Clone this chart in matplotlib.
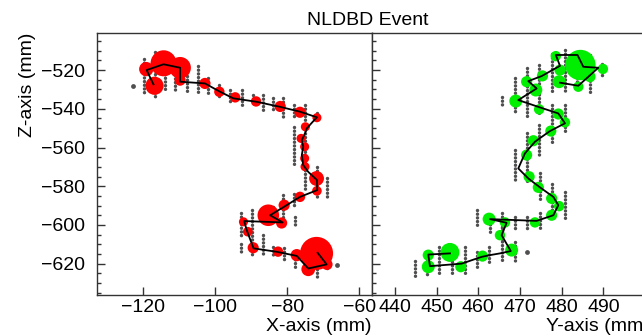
import matplotlib
matplotlib.use("Agg")
import matplotlib.pyplot as plt
import numpy as np

plt.rcParams["font.family"] = ["Liberation Sans", "DejaVu Sans"]

# ---- X-Z view (left) ----
left_track_x = [-117.2, -119.1, -114.4, -109.8, -109.8, -102.9, -98.7, -95.0, -88.5, -82.0,
                -76.5, -71.8, -73.2, -74.6, -75.1, -76.0, -75.6, -76.0, -75.6, -74.2,
                -71.8, -71.7, -76.5, -80.2, -84.8, -81.3, -92.0, -91.3, -89.4, -82.9,
                -77.4, -74.2, -69.1, -71.6]
left_track_z = [-527.4, -520.0, -517.0, -518.8, -526.0, -526.9, -531.2, -534.6, -536.4, -539.0,
                -541.5, -544.4, -547.2, -550.1, -552.7, -556.2, -559.6, -563.9, -569.1, -572.6,
                -576.8, -582.0, -585.5, -589.8, -595.0, -598.7, -598.0, -602.7, -612.1, -613.9,
                -616.0, -622.5, -620.4, -614.4]

red_x = [-119.2, -116.9, -114.4, -109.8, -109.8, -102.9, -98.9, -94.5, -88.7, -82.0,
         -76.5, -71.8, -75.0, -76.2, -75.2, -75.2, -75.1, -71.9, -71.8, -76.5,
         -80.9, -85.3, -81.6, -92.2, -91.0, -89.5, -82.6, -77.4, -74.2, -69.0, -71.9]
red_z = [-519.5, -528.1, -516.5, -518.8, -525.2, -526.9, -531.2, -534.1, -536.2, -538.8,
         -541.8, -544.6, -549.3, -555.3, -559.6, -565.6, -569.9, -576.0, -582.4, -585.5,
         -589.8, -595.0, -599.0, -598.4, -603.5, -611.8, -613.8, -615.6, -622.9, -620.4, -614.7]
red_q = [5.5, 7.0, 10.0, 8.3, 4.3, 4.3, 4.0, 4.0, 4.0, 4.3,
         4.3, 3.5, 3.5, 3.5, 3.5, 3.5, 3.5, 5.7, 3.7, 4.0,
         4.3, 8.3, 4.3, 3.5, 3.7, 4.3, 4.0, 4.7, 5.3, 4.3, 12.7]

hits_xz_x = [-119.8, -116.9, -114.0, -111.2, -108.0, -104.9, -102.0, -98.9, -95.9, -92.7,
             -89.6, -86.8, -83.9, -81.1, -78.1, -75.1, -71.8, -78.1, -75.1, -71.8,
             -68.9, -81.1, -78.1, -77.9, -83.9, -93.0, -93.0, -89.9, -86.8, -83.9,
             -81.0, -77.9, -74.6, -71.8, -69.1]
hits_xz_top = [-514.3, -510.5, -510.5, -514.8, -517.4, -517.8, -524.3, -527.8, -530.3, -530.3,
               -532.9, -532.9, -534.6, -534.6, -538.1, -538.1, -542.0, -549.3, -549.0, -570.0,
               -576.0, -584.6, -584.0, -595.8, -590.6, -594.0, -610.0, -592.3, -605.3, -611.3,
               -612.1, -613.9, -614.7, -611.3, -616.5]
hits_xz_bot = [-532.0, -533.8, -531.2, -531.2, -531.2, -531.2, -532.9, -534.6, -537.7, -538.1,
               -538.1, -541.5, -541.5, -545.0, -545.0, -547.5, -546.0, -570.0, -583.0, -585.5,
               -585.5, -601.8, -590.0, -601.8, -597.5, -606.0, -613.9, -615.6, -616.5, -616.5,
               -619.0, -623.4, -624.2, -626.8, -623.4]
single_xz_x = [-122.8, -66.1]
single_xz_z = [-528.0, -620.8]

# ---- Y-Z view (right) ----
right_track_y = [479.6, 484.0, 488.8, 485.2, 483.8, 478.6, 479.6, 475.2, 472.0, 474.0,
                 469.6, 474.4, 479.2, 480.8, 477.2, 473.6, 471.2, 469.6, 472.0, 474.8,
                 478.0, 479.2, 478.0, 474.0, 462.8, 466.8, 465.6, 467.8, 465.2, 462.8,
                 460.8, 456.0, 448.4, 448.0, 453.2]
right_track_z = [-526.5, -528.1, -518.8, -518.3, -512.2, -512.2, -517.8, -523.1, -525.7, -529.5,
                 -535.5, -539.0, -542.4, -547.5, -551.5, -557.0, -563.0, -570.8, -576.0, -580.6,
                 -585.5, -589.8, -595.0, -597.9, -597.0, -598.9, -605.3, -613.5, -614.7, -615.6,
                 -616.5, -620.0, -621.3, -615.3, -614.7]

green_y = [484.5, 478.6, 489.9, 486.8, 479.4, 484.0, 479.6, 475.4, 471.6, 473.8,
           469.0, 474.6, 479.2, 480.8, 477.4, 473.2, 471.6, 472.2, 474.4, 477.6,
           479.4, 477.6, 473.6, 462.6, 466.4, 465.2, 468.0, 461.0, 455.8, 453.2, 448.0, 448.0]
green_z = [-517.4, -512.8, -519.4, -523.4, -526.0, -528.6, -520.0, -523.0, -526.0, -530.3,
           -536.0, -540.3, -542.7, -547.0, -551.5, -556.5, -563.9, -575.1, -580.6, -586.3,
           -590.3, -595.0, -598.7, -597.0, -598.7, -605.3, -613.0, -616.1, -621.6, -614.2,
           -615.6, -621.6]
green_q = [11.7, 4.0, 4.0, 4.3, 5.0, 4.0, 4.3, 4.3, 4.3, 5.0,
           5.0, 4.0, 4.3, 4.0, 4.3, 4.3, 4.3, 4.3, 4.3, 4.3,
           4.0, 4.3, 4.0, 5.0, 4.0, 4.0, 5.0, 4.3, 4.3, 7.3, 4.3, 5.0]

hits_yz_y = [465.7, 468.8, 471.7, 474.6, 474.6, 477.6, 477.6, 480.8, 480.8, 483.8,
             486.8, 489.8, 468.8, 471.7, 474.8, 477.6, 480.8, 459.8, 462.8, 465.7,
             468.8, 471.8, 474.8, 444.8, 447.8, 450.6, 453.8, 456.8, 459.8, 462.6,
             465.6, 468.8]
hits_yz_top = [-533.8, -524.3, -519.1, -517.4, -548.4, -511.8, -538.1, -509.7, -538.0, -510.5,
               -512.0, -517.0, -561.3, -552.7, -573.4, -578.6, -582.9, -592.4, -595.8, -594.0,
               -595.8, -595.8, -594.0, -618.5, -614.0, -611.3, -611.3, -611.3, -614.0, -611.3,
               -599.0, -608.8]
hits_yz_bot = [-538.1, -542.4, -544.1, -543.3, -563.9, -530.7, -557.0, -531.2, -552.7, -530.0,
               -533.0, -523.0, -577.7, -577.7, -588.0, -595.8, -597.5, -600.1, -603.5, -608.0,
               -602.7, -602.7, -602.7, -626.8, -626.8, -626.0, -626.0, -625.0, -623.4, -620.0,
               -618.2, -620.0]
single_yz_y = [471.8]
single_yz_z = [-613.9]

W, H = 642, 336
fig = plt.figure(figsize=(W / 100, H / 100), dpi=100)
ax_l = fig.add_axes([97.3 / W, 41 / H, (372 - 97.3) / W, (295 - 33.3) / H])
ax_r = fig.add_axes([372 / W, 41 / H, (650 - 372) / W, (295 - 33.3) / H])

hit_color = "#4f4f4f"


def px_to_s(r):
    return (2.6 * np.asarray(r) * 0.72) ** 2


def draw_view(ax, hx, htop, hbot, sx, sz, cx, cz, cq, ccol, tx, tz):
    for x, z0, z1 in zip(hx, htop, hbot):
        ax.plot([x, x], [z0, z1], color=hit_color, lw=2.5, linestyle=(0, (0.01, 1.05)),
                dash_capstyle="round", solid_capstyle="round", zorder=1)
    ax.scatter(sx, sz, s=12, color=hit_color, linewidths=0, zorder=1)
    ax.scatter(cx, cz, s=px_to_s(cq), color=ccol, linewidths=0, zorder=2)
    ax.plot(tx, tz, color="black", lw=1.3, zorder=3)


draw_view(ax_l, hits_xz_x, hits_xz_top, hits_xz_bot, single_xz_x, single_xz_z,
          red_x, red_z, red_q, "#ff0000", left_track_x, left_track_z)
draw_view(ax_r, hits_yz_y, hits_yz_top, hits_yz_bot, single_yz_y, single_yz_z,
          green_y, green_z, green_q, "#00ee00", right_track_y, right_track_z)

ax_l.set_xlim(-132.8, -56.5)
ax_r.set_xlim(434.5, 501.2)
for ax in (ax_l, ax_r):
    ax.set_ylim(-636.2, -501.0)
    ax.set_yticks(np.arange(-620, -500, 20))
    ax.set_yticks(np.arange(-635, -500, 5), minor=True)
    ax.tick_params(axis="both", which="both", direction="in", colors="#333333",
                   labelcolor="black", labelsize=14)
    ax.tick_params(axis="both", which="major", length=5.5, width=1)
    ax.tick_params(axis="y", which="minor", length=3, width=1)
    ax.tick_params(axis="x", which="minor", length=0)
    for sp in ax.spines.values():
        sp.set_color("#333333")
        sp.set_linewidth(1)

ax_l.set_xticks([-120, -100, -80, -60])
ax_r.set_xticks([440, 450, 460, 470, 480, 490])
ax_l.tick_params(axis="y", pad=9)
ax_l.tick_params(axis="x", pad=3)
ax_r.tick_params(axis="x", pad=3)
ax_r.tick_params(axis="y", labelleft=False)

fig.text(368 / W, 1 - 25 / H, "NLDBD Event", ha="center", va="baseline", fontsize=14)
fig.text(372 / W, 1 - 331 / H, "X-axis (mm)", ha="right", va="baseline", fontsize=14)
fig.text(650 / W, 1 - 331 / H, "Y-axis (mm)", ha="right", va="baseline", fontsize=14)
fig.text(27 / W, 1 - 33 / H, "Z-axis (mm)", ha="center", va="top", rotation=90, fontsize=14)

fig.savefig("out.png", dpi=100)
